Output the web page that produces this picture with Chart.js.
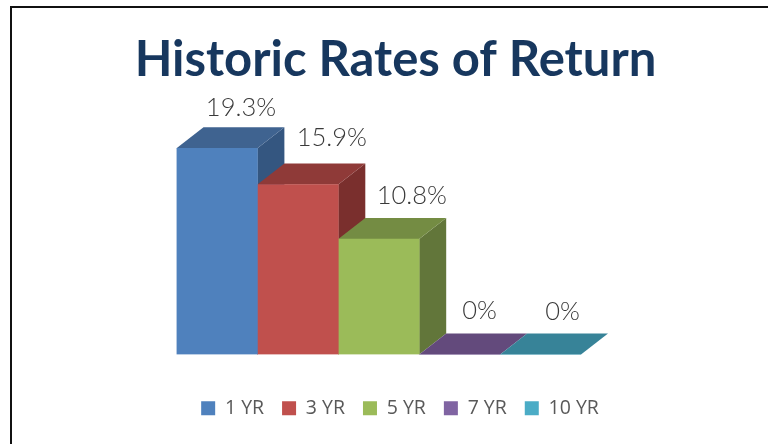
<!DOCTYPE html>
<html><head><meta charset="utf-8">
<style>
html,body{margin:0;padding:0;background:#fff;overflow:hidden}
#wrap{position:relative;width:768px;height:444px}
#frame{position:absolute;left:10px;top:6px;width:758px;height:438px;border-left:2px solid #111;border-top:2px solid #111;box-sizing:border-box;pointer-events:none}
canvas{position:absolute;left:0;top:0}
</style>
<script src="https://cdn.jsdelivr.net/npm/chart.js@4"></script>
</head><body>
<div id="wrap"><canvas id="c" width="768" height="444"></canvas><div id="frame"></div></div>
<script>
const titleText = "Historic Rates of Return";
const categories = ["Return"];
const seriesNames = ["1 YR","3 YR","5 YR","7 YR","10 YR"];
const seriesValues = [19.3,15.9,10.8,0,0];
const frontColors = ["#4F81BD","#C0504D","#9BBB59","#8064A2","#4BACC6"];
const topColors = ["#3F6390","#8F3A38","#748C43","#634A7C","#378398"];
const sideColors = ["#345680","#7A2F2D","#62763A","#54406A","#2F7083"];
const labelDx = [24,34,33,20,22];
const labelDy = [-40,-47,-43,-44,-43];
const depthX = 27, depthY = 21;

const faces3d = {
  id:"faces3d",
  beforeDatasetsDraw(chart){
    const g = chart.ctx;
    chart.data.datasets.forEach((d,i)=>{
      const b = chart.getDatasetMeta(i).data[0];
      const l=b.x-b.width/2, r=b.x+b.width/2, t=b.y, base=b.base;
      g.fillStyle=sideColors[i];
      g.beginPath();g.moveTo(r,t);g.lineTo(r+depthX,t-depthY);g.lineTo(r+depthX,base-depthY);g.lineTo(r,base);g.closePath();g.fill();
      g.fillStyle=topColors[i];
      g.beginPath();g.moveTo(l,t);g.lineTo(l+depthX,t-depthY);g.lineTo(r+depthX,t-depthY);g.lineTo(r,t);g.closePath();g.fill();
    });
  },
  afterDatasetsDraw(chart){
    const g = chart.ctx;
    g.save();
    g.font='300 25.5px Lato';
    g.fillStyle="#3A3A3A";
    g.textAlign="center";g.textBaseline="middle";
    chart.data.datasets.forEach((d,i)=>{
      const b = chart.getDatasetMeta(i).data[0];
      g.fillText(d.data[0]+"%",b.x+labelDx[i],b.y+labelDy[i]);
    });
    g.restore();
  },
  afterLayout(chart){
    chart.legend.left+=4.5;chart.legend.right+=4.5;
  }
};

new Chart(document.getElementById("c"),{
  type:"bar",
  data:{labels:categories,datasets:seriesNames.map((n,i)=>({
    label:n,data:[seriesValues[i]],backgroundColor:frontColors[i],borderWidth:0,
    barPercentage:1,categoryPercentage:1,yAxisID:"y"
  }))},
  plugins:[faces3d],
  options:{
    responsive:false,animation:false,
    layout:{padding:{left:23,right:0,top:31,bottom:16}},
    plugins:{
      tooltip:{enabled:false},
      title:{display:true,text:titleText,color:"#17375E",font:{family:"Lato",size:49,weight:"bold"},padding:{top:0,bottom:51}},
      legend:{display:true,position:"bottom",labels:{boxWidth:14,boxHeight:14,padding:18,color:"#595959",font:{family:"Open Sans",size:19.5}}}
    },
    scales:{
      x:{display:true,grid:{display:false},border:{display:false},ticks:{display:false},afterFit(s){s.height=26;}},
      y:{min:0,max:20,position:"left",grid:{display:false},border:{display:false},ticks:{display:false},afterFit(s){s.width=153.5;}},
      yr:{min:0,max:20,position:"right",grid:{display:false},border:{display:false},ticks:{display:false},afterFit(s){s.width=187;}}
    }
  }
});
</script>
</body></html>
